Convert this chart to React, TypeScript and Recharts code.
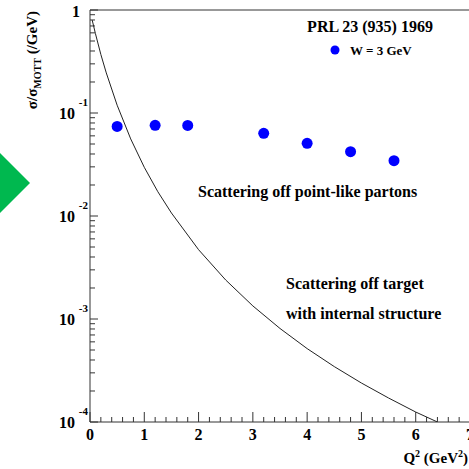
import React from 'react';
import { ComposedChart, Scatter, XAxis, YAxis, ReferenceLine } from 'recharts';

// Measured points (W = 3 GeV)
const pointQ2 = [0.5, 1.2, 1.8, 3.2, 4.0, 4.8, 5.6];
const pointSigma = [0.074, 0.076, 0.0758, 0.0635, 0.0508, 0.0421, 0.0344];

// Curve: scattering off target with internal structure
const curveQ2 = [0.04, 0.1, 0.2, 0.3, 0.5, 0.75, 1.0, 1.25, 1.5, 2.0, 2.5, 3.0, 3.5, 4.0, 4.5, 5.0, 5.5, 6.0, 6.4];
const curveSigma = [0.8, 0.59, 0.37, 0.245, 0.119, 0.056, 0.0297, 0.0172, 0.0107, 0.00471, 0.00239, 0.00134, 0.000809, 0.000516, 0.000345, 0.000239, 0.000171, 0.000125, 0.0001];

const xTicks = [0, 0.2, 0.4, 0.6, 0.8, 1, 1.2, 1.4, 1.6, 1.8, 2, 2.2, 2.4, 2.6, 2.8, 3, 3.2, 3.4, 3.6, 3.8, 4, 4.2, 4.4, 4.6, 4.8, 5, 5.2, 5.4, 5.6, 5.8, 6, 6.2, 6.4, 6.6, 6.8, 7];
const xMajor = [0, 1, 2, 3, 4, 5, 6, 7];
const yTicks = [
  0.0001, 0.0002, 0.0003, 0.0004, 0.0005, 0.0006, 0.0007, 0.0008, 0.0009,
  0.001, 0.002, 0.003, 0.004, 0.005, 0.006, 0.007, 0.008, 0.009,
  0.01, 0.02, 0.03, 0.04, 0.05, 0.06, 0.07, 0.08, 0.09,
  0.1, 0.2, 0.3, 0.4, 0.5, 0.6, 0.7, 0.8, 0.9, 1,
];
const yMajor = [0.0001, 0.001, 0.01, 0.1, 1];
const yMajorExp = ['-4', '-3', '-2', '-1', ''];

const points = pointQ2.map((q, i) => ({ q, s: pointSigma[i] }));
const curve = curveQ2.map((q, i) => ({ q, s: curveSigma[i] }));

const FONT = '"Liberation Serif", "DejaVu Serif", serif';
const AXIS = '#333';

const XTick = (props: any) => {
  const { x, y, payload } = props;
  const v = payload.value;
  const major = xMajor.some((m) => Math.abs(m - v) < 1e-6);
  return (
    <g>
      <line x1={x} x2={x} y1={y} y2={y - (major ? 10 : 5)} stroke={AXIS} strokeWidth={1} />
      {major && (
        <text x={x} y={y + 18} textAnchor="middle" fontFamily={FONT} fontWeight="bold" fontSize={16} fill="#000">
          {String(Math.round(v))}
        </text>
      )}
    </g>
  );
};

const YTick = (props: any) => {
  const { x, y, payload } = props;
  const v = payload.value;
  const idx = yMajor.findIndex((m) => Math.abs(Math.log10(m) - Math.log10(v)) < 1e-6);
  const major = idx >= 0;
  return (
    <g>
      <line x1={x} x2={x + (major ? 8 : 5)} y1={y} y2={y} stroke={AXIS} strokeWidth={1} />
      {major && yMajorExp[idx] === '' && (
        <text x={x - 10} y={y + 7} textAnchor="end" fontFamily={FONT} fontWeight="bold" fontSize={16} fill="#000">
          1
        </text>
      )}
      {major && yMajorExp[idx] !== '' && (
        <g>
          <text x={x - 15} y={y + 6} textAnchor="end" fontFamily={FONT} fontWeight="bold" fontSize={16} fill="#000">
            10
          </text>
          <text x={x - 2} y={y - 7} textAnchor="end" fontFamily={FONT} fontWeight="bold" fontSize={11} fill="#000">
            {yMajorExp[idx]}
          </text>
        </g>
      )}
    </g>
  );
};

const NoDot = () => <g />;
const Dot = (p: any) => <circle cx={p.cx} cy={p.cy} r={5.5} fill="#0000ff" />;

export default function App() {
  return (
    <div style={{ position: 'absolute', left: 0, top: 0, width: 469, height: 469, overflow: 'hidden', background: '#fff' }}>
      <div style={{ position: 'absolute', left: 0, top: 0 }}>
        <ComposedChart width={480} height={469} margin={{ top: 10, right: 10, bottom: 0, left: 0 }}>
          <XAxis
            type="number"
            dataKey="q"
            domain={[0, 7]}
            ticks={xTicks}
            interval={0}
            tick={<XTick />}
            tickLine={false}
            tickSize={0}
            tickMargin={0}
            height={47}
            axisLine={{ stroke: AXIS }}
            allowDataOverflow
          />
          <YAxis
            type="number"
            dataKey="s"
            scale="log"
            domain={[0.0001, 1]}
            ticks={yTicks}
            interval={0}
            tick={<YTick />}
            tickLine={false}
            tickSize={0}
            tickMargin={0}
            width={90}
            axisLine={{ stroke: AXIS }}
            allowDataOverflow
          />
          <ReferenceLine y={1} stroke={AXIS} strokeWidth={1} ifOverflow="visible" />
          <Scatter
            data={curve}
            dataKey="s"
            line={{ stroke: '#222', strokeWidth: 1 }}
            lineType="joint"
            shape={<NoDot />}
            isAnimationActive={false}
          />
          <Scatter data={points} dataKey="s" fill="#0000ff" shape={<Dot />} isAnimationActive={false} />
        </ComposedChart>
      </div>
      <svg width={469} height={469} style={{ position: 'absolute', left: 0, top: 0, pointerEvents: 'none' }}>
        <polygon points="0,153 30,183 0,213" fill="#00b84f" />
        <text transform="rotate(-90)" x={-11} y={37} textAnchor="end" fontFamily={FONT} fontWeight="bold" fontSize={15} fill="#000">
          σ/σ<tspan dy={4} fontSize={10}>MOTT</tspan>
          <tspan dy={-4}> (/GeV)</tspan>
        </text>
        <text x={468} y={463} textAnchor="end" fontFamily={FONT} fontWeight="bold" fontSize={15} fill="#000">
          Q<tspan dy={-6} fontSize={10}>2</tspan>
          <tspan dy={6}> (GeV</tspan>
          <tspan dy={-6} fontSize={10}>2</tspan>
          <tspan dy={6}>)</tspan>
        </text>
        <text x={370} y={32} textAnchor="middle" fontFamily={FONT} fontWeight="bold" fontSize={16} fill="#000">
          PRL 23 (935) 1969
        </text>
        <circle cx={335} cy={50} r={4.5} fill="#0000ff" />
        <text x={350} y={55} fontFamily={FONT} fontWeight="bold" fontSize={13} fill="#000">
          W = 3 GeV
        </text>
        <text x={198} y={197} fontFamily={FONT} fontWeight="bold" fontSize={16} fill="#000">
          Scattering off point-like partons
        </text>
        <text x={286} y={289} fontFamily={FONT} fontWeight="bold" fontSize={16} fill="#000">
          Scattering off target
        </text>
        <text x={286} y={319} fontFamily={FONT} fontWeight="bold" fontSize={16} fill="#000">
          with internal structure
        </text>
      </svg>
    </div>
  );
}
